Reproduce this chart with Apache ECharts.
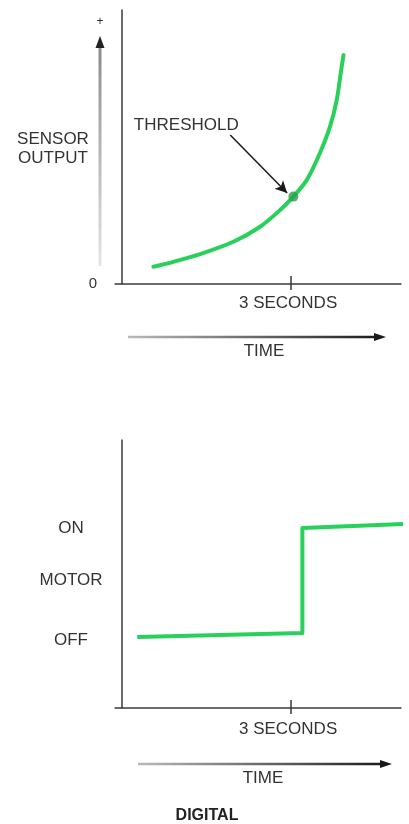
<!DOCTYPE html>
<html><head><meta charset="utf-8">
<script src="https://cdn.jsdelivr.net/npm/echarts@6/dist/echarts.min.js"></script>
<style>html,body{margin:0;padding:0;background:#fff}#c{width:409px;height:824px}</style>
</head><body><div id="c"></div>
<script>
// ---- data ----
const sensorTime   = [0.556, 0.911, 1.385, 1.976, 2.45, 2.805, 3.04, 3.28, 3.51, 3.69, 3.81, 3.88, 3.93];
const sensorOutput = [0.63, 0.81, 1.09, 1.54, 2.09, 2.70, 3.19, 3.80, 4.77, 5.74, 6.72, 7.69, 8.36];
const threshold    = [3.04, 3.19];
const thresholdArrowFrom = [1.92, 5.44];
const thresholdArrowTo   = [2.93, 3.32];
const thresholdLabelAt   = [1.14, 5.80];
const motorTime  = [0.27, 3.2, 3.2, 5.08];
const motorState = [2.65, 2.80, 6.72, 6.87];
const motorTicks  = [2.54, 4.78, 6.72];
const motorLabels = {'2.54':'OFF','4.78':'MOTOR','6.72':'ON'};
const timeTicks = [3];
const timeTickLabel = '3 SECONDS';

const FONT = '"Liberation Sans", Arial, sans-serif';
const TXT = '#333';
const GREEN = '#2ad05c';
const AX = {lineStyle:{color:'#3a3a3a', width:1.5}};

const chart = echarts.init(document.getElementById('c'), null, {renderer:'canvas'});

function xAxes(grid, labelMargin){
  return [
    {gridIndex:grid, type:'value', min:-0.125, max:4.95, position:'bottom',
     axisLine:Object.assign({show:true,onZero:true},AX),
     axisTick:{show:true, customValues:timeTicks, length:6, lineStyle:{color:'#3a3a3a',width:1.5}},
     axisLabel:{show:true, customValues:timeTicks, formatter:()=>timeTickLabel, margin:labelMargin,
       fontFamily:FONT, fontSize:17, color:TXT, padding:[0,6,0,0]},
     splitLine:{show:false}},
    {gridIndex:grid, type:'value', min:-0.125, max:4.95, position:'bottom',
     axisLine:{show:false},
     axisTick:{show:true, inside:true, customValues:timeTicks, length:8, lineStyle:{color:'#3a3a3a',width:1.5}},
     axisLabel:{show:false}, splitLine:{show:false}}
  ];
}

function arrow(x1, x2, y, c1, c2){
  return {type:'group', children:[
    {type:'line', shape:{x1:x1,y1:y,x2:x2-8,y2:y},
     style:{lineWidth:2.5, stroke:new echarts.graphic.LinearGradient(0,0,1,0,[{offset:0,color:c1},{offset:1,color:c2}])}},
    {type:'polygon', shape:{points:[[x2,y],[x2-12,y-4],[x2-12,y+4]]}, style:{fill:c2}}
  ]};
}

const option = {
  animation:false,
  grid:[
    {left:115, top:10, width:286, height:274},
    {left:115, top:440, width:286, height:268}
  ],
  xAxis: xAxes(0, 11).concat(xAxes(1, 13)),
  yAxis:[
    {gridIndex:0, type:'value', min:0, max:10,
     axisLine:Object.assign({show:true,onZero:true},AX), axisTick:{show:false},
     axisLabel:{show:true, customValues:[0], formatter:v=>String(v), margin:18, fontFamily:FONT, fontSize:15, color:TXT},
     splitLine:{show:false}},
    {gridIndex:1, type:'value', min:0, max:10,
     axisLine:Object.assign({show:true,onZero:true},AX), axisTick:{show:false},
     axisLabel:{show:true, customValues:motorTicks, formatter:v=>motorLabels[String(v)], margin:44, align:'center',
       fontFamily:FONT, fontSize:17, color:TXT},
     splitLine:{show:false}}
  ],
  series:[
    {type:'line', xAxisIndex:0, yAxisIndex:0, data:sensorTime.map((t,i)=>[t,sensorOutput[i]]),
     smooth:0.3, symbol:'none', lineStyle:{color:GREEN, width:4, cap:'round'},
     markLine:{silent:true, symbol:['none','arrow'], symbolSize:[9,12],
       lineStyle:{color:'#1a1a1a', width:1.5, type:'solid'}, label:{show:false},
       data:[[{coord:thresholdArrowFrom, itemStyle:{color:'#3a1a10'}},{coord:thresholdArrowTo, itemStyle:{color:'#3a1a10'}}]]},
     markPoint:{silent:true, symbol:'circle', symbolSize:0,
       label:{show:true, position:'inside', formatter:'THRESHOLD', fontFamily:FONT, fontSize:17, color:TXT},
       data:[{coord:thresholdLabelAt}]}
    },
    {type:'scatter', xAxisIndex:0, yAxisIndex:0, data:[threshold], symbolSize:10,
     itemStyle:{color:'#2a9e4c'}, z:5},
    {type:'line', xAxisIndex:2, yAxisIndex:1, data:motorTime.map((t,i)=>[t,motorState[i]]),
     symbol:'none', clip:false, lineStyle:{color:GREEN, width:4, join:'round'}}
  ],
  graphic:[
    {type:'line', shape:{x1:100,y1:266,x2:100,y2:46},
     style:{lineWidth:3, stroke:new echarts.graphic.LinearGradient(0,1,0,0,[{offset:0,color:'#e6e6e6'},{offset:1,color:'#8a8a8a'}])}},
    {type:'polygon', shape:{points:[[100,36],[95.5,48],[104.5,48]]}, style:{fill:'#222'}},
    {type:'text', x:100, y:22, style:{text:'+', font:'12px '+FONT, fill:TXT, align:'center', verticalAlign:'middle'}},
    {type:'text', x:53, y:139, style:{text:'SENSOR', font:'17px '+FONT, fill:TXT, align:'center', verticalAlign:'middle'}},
    {type:'text', x:53, y:158, style:{text:'OUTPUT', font:'17px '+FONT, fill:TXT, align:'center', verticalAlign:'middle'}},
    arrow(128, 386, 337, '#bbbbbb', '#1a1a1a'),
    {type:'text', x:264, y:351, style:{text:'TIME', font:'17px '+FONT, fill:TXT, align:'center', verticalAlign:'middle'}},
    arrow(138, 392, 764, '#bbbbbb', '#1a1a1a'),
    {type:'text', x:263, y:778, style:{text:'TIME', font:'17px '+FONT, fill:TXT, align:'center', verticalAlign:'middle'}},
    {type:'text', x:207, y:816, style:{text:'DIGITAL', font:'bold 16px '+FONT, fill:'#222', align:'center', verticalAlign:'middle'}}
  ]
};
chart.setOption(option);
</script>
</body></html>
